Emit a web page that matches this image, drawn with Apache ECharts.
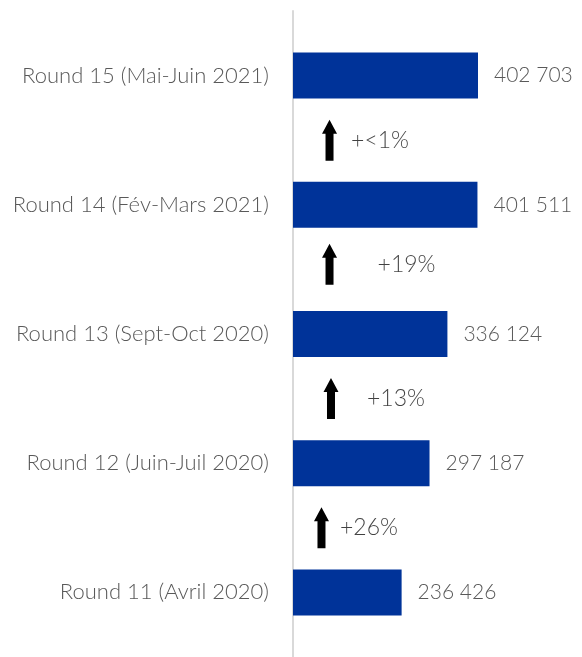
<!DOCTYPE html>
<html>
<head>
<meta charset="utf-8">
<script src="https://cdn.jsdelivr.net/npm/echarts@6/dist/echarts.min.js"></script>
<style>html,body{margin:0;padding:0;background:#fff}#c{width:582px;height:657px}</style>
</head>
<body>
<div id="c"></div>
<script>
const categories = ['Round 11 (Avril 2020)', 'Round 12 (Juin-Juil 2020)', 'Round 13 (Sept-Oct 2020)', 'Round 14 (Fév-Mars 2021)', 'Round 15 (Mai-Juin 2021)'];
const values = [236426, 297187, 336124, 401511, 402703];
const changes = ['+26%', '+13%', '+19%', '+<1%'];
const changePos = [1, 2, 3.04, 4];
const arrowX = [62000, 82700, 79500, 79500];
const changeTextX = [165400, 224200, 247100, 189400];

const FONT = 'Lato';
const TXT = '#595959';
const fmt = v => String(v).replace(/\B(?=(\d{3})+(?!\d))/g, ' ');

const chart = echarts.init(document.getElementById('c'), null, {renderer: 'canvas'});
chart.setOption({
  animation: false,
  grid: {left: 293, width: 229.7, top: 11, height: 652},
  xAxis: {type: 'value', min: 0, max: 500000, show: false},
  yAxis: [
    {
      type: 'category', data: categories,
      axisLine: {show: true, lineStyle: {color: '#d9d9d9', width: 2}},
      axisTick: {show: false},
      axisLabel: {color: TXT, fontFamily: FONT, fontSize: 22, fontWeight: 300, margin: 24}
    },
    {type: 'value', min: 0, max: 5, show: false}
  ],
  series: [
    {
      type: 'bar', data: values, barWidth: 46,
      itemStyle: {color: '#003399'},
      label: {show: true, position: 'right', distance: 16, color: TXT, fontFamily: FONT, fontSize: 21, fontWeight: 300,
        formatter: p => fmt(p.value)}
    },
    {
      type: 'scatter', yAxisIndex: 1,
      data: arrowX.map((x, i) => [x, changePos[i]]),
      symbol: 'path://M7.5,0 L15,14 L11.5,14 L11.5,41 L3.5,41 L3.5,14 L0,14 Z',
      symbolSize: [15, 41], symbolKeepAspect: false,
      itemStyle: {color: '#000', opacity: 1}
    },
    {
      type: 'scatter', yAxisIndex: 1,
      data: changeTextX.map((x, i) => [x, changePos[i]]),
      symbolSize: 1, itemStyle: {color: 'rgba(0,0,0,0)'},
      label: {show: true, position: 'inside', color: '#111', fontFamily: FONT, fontSize: 23, fontWeight: 300,
        formatter: p => changes[p.dataIndex]}
    }
  ]
});
</script>
</body>
</html>
